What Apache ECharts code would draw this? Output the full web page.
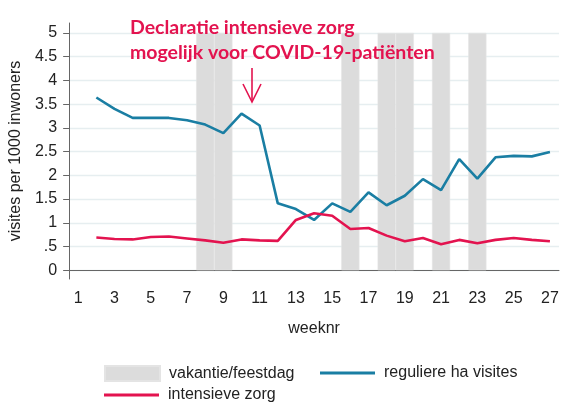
<!DOCTYPE html>
<html lang="nl">
<head>
    <meta charset="UTF-8">
    <title>visites per 1000 inwoners</title>
    <script src="https://cdn.jsdelivr.net/npm/echarts@6/dist/echarts.min.js"></script>
    <style>
        html, body { margin: 0; padding: 0; background: #fff; }
        #chart { width: 564px; height: 403px; }
    </style>
</head>
<body>
<div id="chart"></div>
<script>
    // weeknummers 1..27
    var weeks = []
    for (var w = 1; w <= 27; w++) weeks.push(String(w))

    // week 1 heeft geen waarde
    var regulier = [null, 3.64, 3.40, 3.21, 3.21, 3.21, 3.16, 3.07, 2.89, 3.30, 3.05, 1.41, 1.29,
        1.06, 1.41, 1.23, 1.64, 1.37, 1.57, 1.92, 1.69, 2.34, 1.93, 2.38, 2.41, 2.40, 2.49]
    var intensief = [null, 0.69, 0.66, 0.65, 0.70, 0.71, 0.67, 0.63, 0.58, 0.65, 0.63, 0.62, 1.06,
        1.20, 1.15, 0.87, 0.89, 0.73, 0.61, 0.68, 0.55, 0.64, 0.57, 0.64, 0.68, 0.64, 0.61]
    // vakantie/feestdag weken (balk tot 5)
    var vakantieWeken = [8, 9, 16, 18, 19, 21, 23]
    var yTicks = [0, 0.5, 1, 1.5, 2, 2.5, 3, 3.5, 4, 4.5, 5]

    var vakantie = weeks.map(function (wk) {
        return vakantieWeken.indexOf(Number(wk)) >= 0 ? 5 : null
    })

    var blauw = '#1a7ea3'
    var rood = '#e3134f'
    var grijs = '#dcdcdc'
    var font = 'Liberation Sans'
    var legendText = {fontFamily: font, fontSize: 16, color: '#222', padding: [0, 0, 0, 4]}

    var myChart = echarts.init(document.getElementById('chart'))
    myChart.setOption({
        animation: false,
        textStyle: {fontFamily: font},
        grid: {left: 66, right: 5, top: 23, bottom: 124, containLabel: false},
        legend: [{
            left: 104, top: 365, padding: 0, itemWidth: 55, itemHeight: 15,
            textStyle: legendText,
            data: [{name: 'vakantie/feestdag', icon: 'rect'}]
        }, {
            left: 320, top: 365, padding: 0, itemWidth: 55, itemHeight: 3,
            textStyle: legendText,
            data: [{name: 'reguliere ha visites', icon: 'rect'}]
        }, {
            left: 104, top: 387, padding: 0, itemWidth: 55, itemHeight: 3,
            textStyle: legendText,
            data: [{name: 'intensieve zorg', icon: 'rect'}]
        }],
        xAxis: {
            type: 'category',
            data: weeks,
            boundaryGap: true,
            name: 'weeknr',
            nameLocation: 'middle',
            nameGap: 42,
            nameTextStyle: {fontSize: 16, color: '#222'},
            axisLine: {lineStyle: {color: '#666', width: 1}},
            axisTick: {alignWithLabel: true, interval: 1, length: 6, lineStyle: {color: '#666'}},
            axisLabel: {interval: 1, fontSize: 16, color: '#222', margin: 12},
            splitLine: {show: false}
        },
        yAxis: {
            type: 'value',
            min: -0.184,
            max: 5.21,
            name: 'visites per 1000 inwoners',
            nameLocation: 'middle',
            nameGap: 41,
            nameRotate: 90,
            nameTextStyle: {fontSize: 16, color: '#222'},
            axisLine: {show: true, lineStyle: {color: '#666', width: 1}},
            axisTick: {show: true, length: 6, customValues: yTicks, lineStyle: {color: '#666'}},
            axisLabel: {
                fontSize: 16, color: '#222', margin: 12, customValues: yTicks,
                formatter: function (v) { return v === 0.5 ? '.5' : String(v) }
            },
            splitLine: {show: true, lineStyle: {color: '#e6eef0', width: 1.3}}
        },
        graphic: [{
            type: 'polyline', z: 100,
            shape: {points: [[252, 68], [252, 102]]},
            style: {stroke: rood, lineWidth: 1.6, fill: null}
        }, {
            type: 'polyline', z: 100,
            shape: {points: [[243, 84], [252, 102], [261, 84]]},
            style: {stroke: rood, lineWidth: 1.6, fill: null}
        }],
        title: {
            text: 'Declaratie intensieve zorg\nmogelijk voor COVID-19-patiënten',
            left: 130, top: 15, padding: 0,
            textStyle: {fontFamily: 'Lato', fontWeight: 'bold', fontSize: 19.5, lineHeight: 25, color: rood}
        },
        series: [{
            name: 'vakantie/feestdag',
            type: 'bar',
            data: vakantie,
            barWidth: '100%',
            barCategoryGap: 0,
            itemStyle: {color: grijs, borderColor: '#e4e4e4', borderWidth: 0.6},
            z: 1
        }, {
            name: 'reguliere ha visites',
            type: 'line',
            data: regulier,
            symbol: 'none',
            lineStyle: {color: blauw, width: 2.6},
            itemStyle: {color: blauw},
            z: 3
        }, {
            name: 'intensieve zorg',
            type: 'line',
            data: intensief,
            symbol: 'none',
            lineStyle: {color: rood, width: 2.6},
            itemStyle: {color: rood},
            z: 3
        }]
    })
</script>
</body>
</html>
